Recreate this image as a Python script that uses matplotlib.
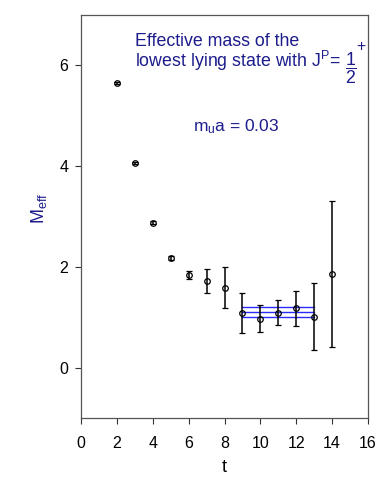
import matplotlib
matplotlib.use("Agg")
import matplotlib.pyplot as plt

plt.rcParams['font.family'] = ['Liberation Sans', 'DejaVu Sans']
plt.rcParams['mathtext.fontset'] = 'custom'
plt.rcParams['mathtext.rm'] = 'Liberation Sans'
plt.rcParams['mathtext.it'] = 'Liberation Sans'
plt.rcParams['mathtext.bf'] = 'Liberation Sans:bold'

t = [2, 3, 4, 5, 6, 7, 8, 9, 10, 11, 12, 13, 14]
meff = [5.65, 4.06, 2.88, 2.18, 1.83, 1.72, 1.59, 1.08, 0.97, 1.09, 1.18, 1.01, 1.85]
err = [0.02, 0.02, 0.03, 0.04, 0.08, 0.23, 0.40, 0.40, 0.27, 0.25, 0.35, 0.66, 1.45]
fit_range = [9, 13]
fit_val = 1.10
fit_err = 0.10

W, H = 382, 491
navy = '#1c1c8c'
fig = plt.figure(figsize=(W / 100, H / 100), dpi=100)
ax = fig.add_axes([81 / W, 1 - 418 / H, (368 - 81) / W, (418 - 15) / H])

ax.errorbar(t, meff, yerr=err, fmt='o', mfc='none', mec='black', ecolor='black',
            ms=4, mew=0.9, elinewidth=1.1, capsize=2.2, capthick=1.0, zorder=3)
for v in [fit_val - fit_err, fit_val, fit_val + fit_err]:
    ax.plot(fit_range, [v, v], color='#2b2bff', lw=1.0, zorder=2)

ax.set_xlim(0, 16)
ax.set_ylim(-1, 7)
ax.set_xticks(range(0, 17, 2))
ax.set_yticks([0, 2, 4, 6])
ax.tick_params(axis='both', direction='out', labelsize=11.5, length=4, width=0.8, color='#333333')
ax.tick_params(axis='x', pad=9)
ax.tick_params(axis='y', pad=5)
for s in ax.spines.values():
    s.set_color('#555555')
    s.set_linewidth(0.9)

ax.set_xlabel('t', fontsize=13, labelpad=6)
ax.set_ylabel(r'M$_{\rm eff}$', fontsize=13, color=navy)
ax.yaxis.set_label_coords(-0.112, 0.52)


def fx(px):
    return px / W


def fy(py):
    return 1 - py / H


fs = 12.8
fig.text(fx(135), fy(45.7), 'Effective mass of the', fontsize=fs, color=navy,
         va='baseline', ha='left')
fig.text(fx(135), fy(67.3), r'lowest lying state with J$^{\rm P}$=', fontsize=fs,
         color=navy, va='baseline', ha='left')
fig.text(fx(350.5), fy(68.5), r'$\dfrac{1}{2}$', fontsize=fs, color=navy,
         va='center', ha='center')
fig.text(fx(360.5), fy(51), '+', fontsize=fs - 1.5, color=navy, va='baseline', ha='center')

fig.text(fx(236), fy(131.7), r'm$_{\rm u}$a = 0.03', fontsize=12.5, color=navy,
         va='baseline', ha='center')

fig.savefig('out.png', dpi=100)
